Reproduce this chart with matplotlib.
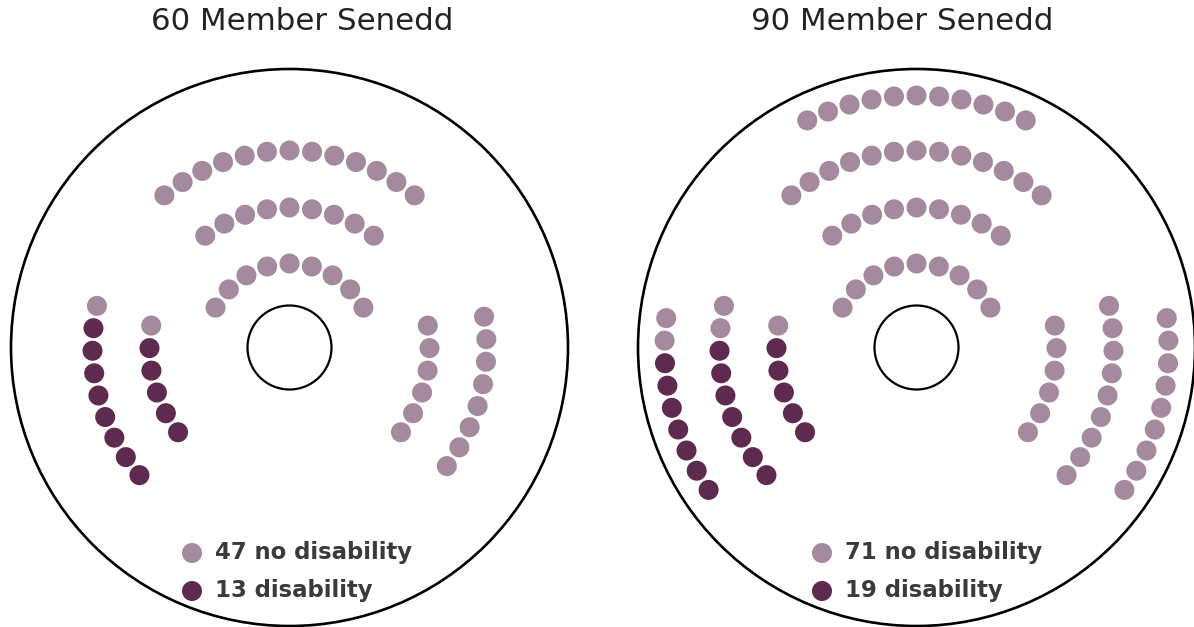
import numpy as np
from matplotlib import pyplot as plt
from matplotlib.patches import Circle

# chamber titles and legend counts
titles = ["60 Member Senedd", "90 Member Senedd"]
no_disability = [47, 71]
disability = [13, 19]

# seat blocks per chamber: (ring, start angle in degrees, seats, disabled seats)
# start angle 0 means the arc is centred at the top
blocks_60 = [
    (0, 0, 9, 0), (1, 0, 9, 0), (2, 0, 13, 0),
    (2, -77.8, 9, 8), (1, -81, 6, 5),
    (1, 81, 6, 0), (2, 81, 8, 0),
]
blocks_90 = [
    (0, 0, 9, 0), (1, 0, 9, 0), (2, 0, 13, 0), (3, 0, 11, 0),
    (3, -83.3, 9, 7), (2, -77.8, 9, 7), (1, -81, 6, 5),
    (1, 81, 6, 0), (2, 77.8, 9, 0), (3, 83.3, 9, 0),
]

light = "#a4899f"
dark = "#5e2a4f"
ring_r = [84, 140, 197, 252]
seat_gap = 22.6
centres = [(289.5, 347.5), (916.5, 347.5)]
title_x = [302, 902]
legend_x = [192, 822]

fig = plt.figure(figsize=(11.94, 6.27), dpi=100)
ax = fig.add_axes([0, 0, 1, 1])
ax.set_xlim(0, 1194)
ax.set_ylim(627, 0)
ax.axis("off")


def draw_chamber(cx, cy, blocks):
    ax.add_patch(Circle((cx, cy), 278.5, fill=False, lw=1.9, color="black"))
    ax.add_patch(Circle((cx, cy), 42, fill=False, lw=1.6, color="black"))
    for (ring, start, n, n_dark) in blocks:
        r = ring_r[ring]
        step = np.degrees(seat_gap / r)
        if start == 0:
            angles = (np.arange(n) - (n - 1) / 2) * step
        else:
            angles = start + np.sign(start) * np.arange(n) * step
        for i, a in enumerate(angles):
            t = np.radians(a)
            col = dark if i >= n - n_dark else light
            ax.add_patch(Circle((cx + r * np.sin(t), cy - r * np.cos(t)), 10, color=col, lw=0))


for k, blocks in enumerate([blocks_60, blocks_90]):
    cx, cy = centres[k]
    draw_chamber(cx, cy, blocks)
    ax.text(title_x[k], 21, titles[k], ha="center", va="center",
            fontsize=22.2, family="DejaVu Sans", color="#222222")
    lx = legend_x[k]
    ax.add_patch(Circle((lx, 553), 10, color=light, lw=0))
    ax.add_patch(Circle((lx, 591), 10, color=dark, lw=0))
    ax.text(lx + 23, 553, f"{no_disability[k]} no disability", ha="left", va="center",
            fontsize=16.4, family="DejaVu Sans", weight="bold", color="#3a3a3a")
    ax.text(lx + 23, 591, f"{disability[k]} disability", ha="left", va="center",
            fontsize=16.4, family="DejaVu Sans", weight="bold", color="#3a3a3a")

fig.savefig("out.png", dpi=100)
